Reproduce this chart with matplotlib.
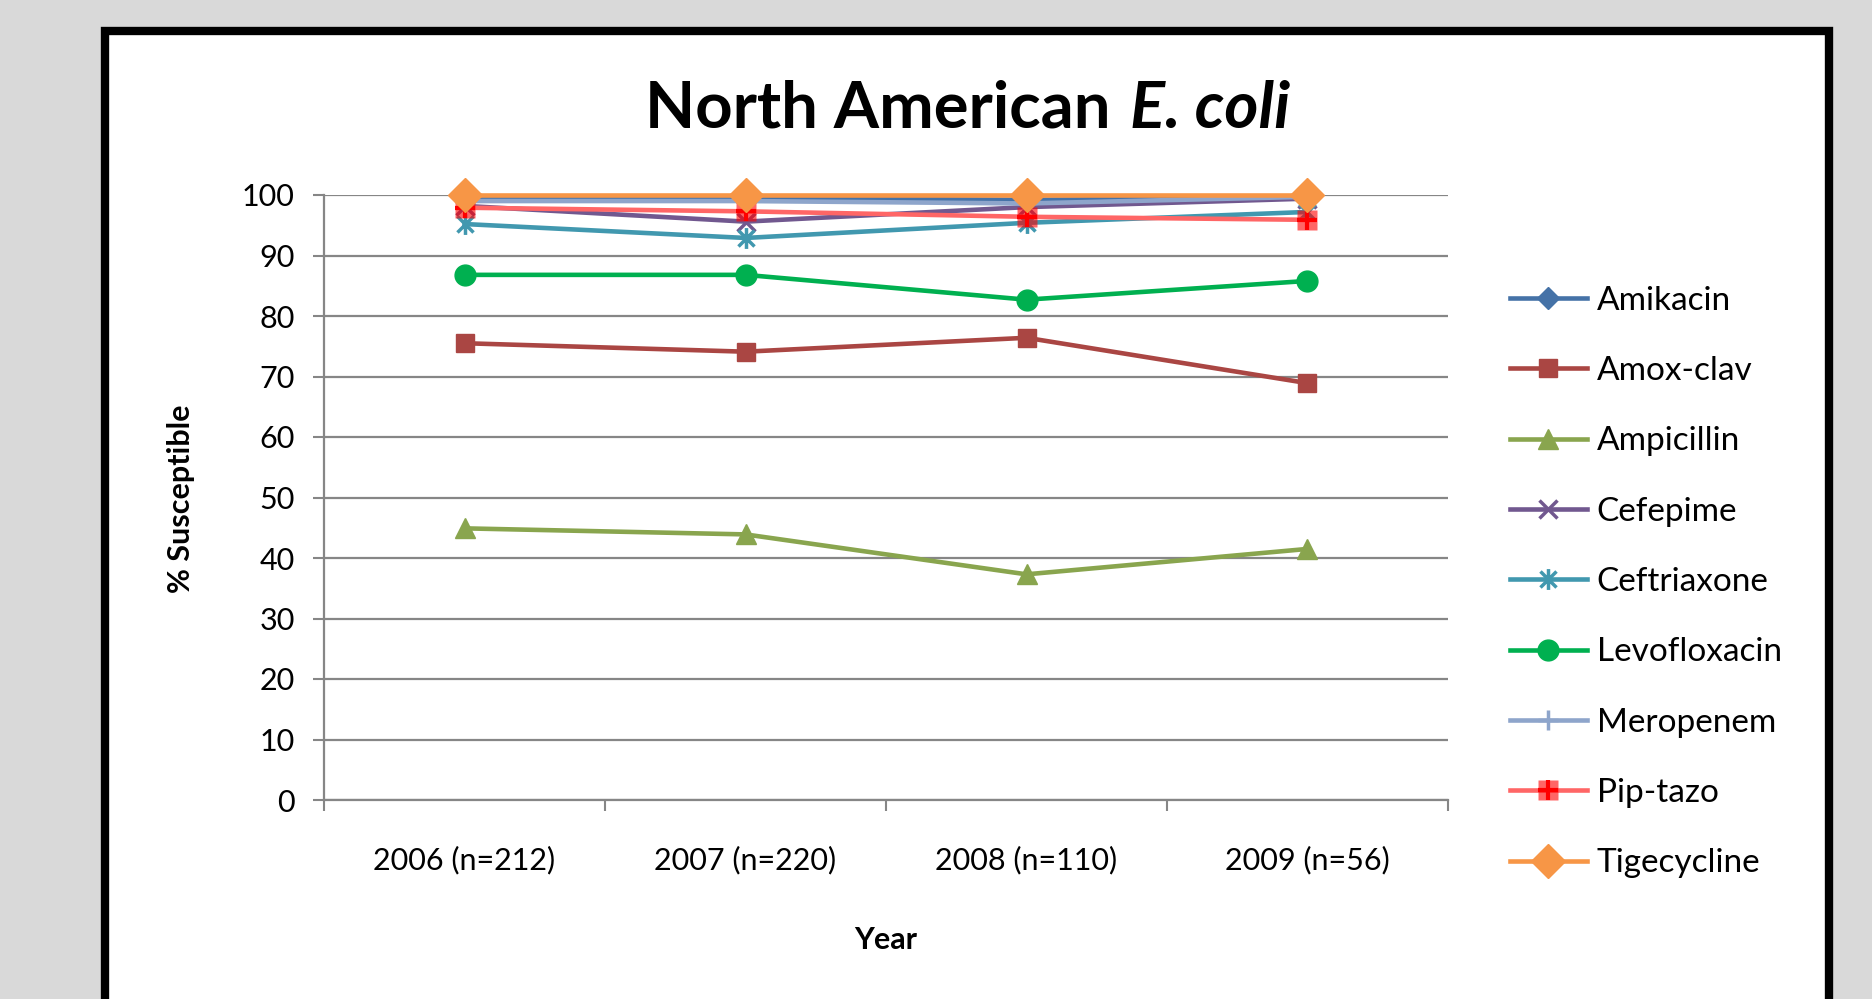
import matplotlib.pyplot as plt
from matplotlib.patches import Rectangle
from matplotlib.path import Path
from matplotlib.legend_handler import HandlerTuple

plt.rcParams['font.family'] = ['Lato', 'DejaVu Sans']

years = ["2006 (n=212)", "2007 (n=220)", "2008 (n=110)", "2009 (n=56)"]

amikacin = [99.4, 99.5, 99.2, 99.6]
amox_clav = [75.5, 74.1, 76.4, 68.9]
ampicillin = [44.9, 43.9, 37.3, 41.5]
cefepime = [98.2, 95.6, 98.0, 99.4]
ceftriaxone = [95.2, 92.9, 95.4, 97.2]
levofloxacin = [86.8, 86.8, 82.7, 85.8]
meropenem = [99.0, 99.0, 98.6, 99.7]
pip_tazo = [97.9, 97.3, 96.4, 95.9]
tigecycline = [100, 100, 100, 100]

# asterisk marker like the spreadsheet one (x plus vertical bar)
asterisk = Path([(-1, -1), (1, 1), (-1, 1), (1, -1), (0, -1.3), (0, 1.3)],
                [Path.MOVETO, Path.LINETO, Path.MOVETO, Path.LINETO, Path.MOVETO, Path.LINETO])

fig = plt.figure(figsize=(18.72, 9.99), dpi=100)
fig.patch.set_facecolor("#d9d9d9")
fig.patches.append(Rectangle((105 / 1872, -0.05), (1829 - 105) / 1872, 1.05 - 31 / 999,
                             transform=fig.transFigure, facecolor="white",
                             edgecolor="black", linewidth=6, zorder=-1))

ax = fig.add_axes([324 / 1872, 1 - 800 / 999, (1448 - 324) / 1872, (800 - 195) / 999])
ax.set_zorder(2)
x = range(len(years))
lw = 3.3
kw = dict(lw=lw, clip_on=False)

h_ami, = ax.plot(x, amikacin, color="#4572A7", marker="D", ms=11, **kw)
h_amox, = ax.plot(x, amox_clav, color="#AA4643", marker="s", ms=13, **kw)
h_amp, = ax.plot(x, ampicillin, color="#89A54E", marker="^", ms=14, **kw)
h_cef, = ax.plot(x, cefepime, color="#71588F", marker="x", ms=13, mew=2.5, **kw)
h_ceft, = ax.plot(x, ceftriaxone, color="#4198AF", marker=asterisk, ms=15, mew=2.5, **kw)
h_levo, = ax.plot(x, levofloxacin, color="#00B050", marker="o", ms=15, **kw)
h_mero, = ax.plot(x, meropenem, color="#8EA5CB", marker="+", ms=15, mew=2.5, **kw)
h_pip1, = ax.plot(x, pip_tazo, color="#FF6666", marker="s", ms=14,
                  mfc=(1, 0, 0, 0.6), mec=(1, 0, 0, 0.0), **kw)
h_pip2, = ax.plot(x, pip_tazo, ls="none", marker="+", ms=14, mew=3, color="red", clip_on=False)
h_tige, = ax.plot(x, tigecycline, color="#F79646", marker="D", ms=17, **kw)

ax.set_xlim(-0.5, 3.5)
ax.set_ylim(0, 100)
ax.set_yticks(range(0, 101, 10))
ax.set_xticks([-0.5, 0.5, 1.5, 2.5, 3.5])
ax.set_xticklabels([])
ax.set_xticks(list(x), minor=True)
ax.set_xticklabels(years, minor=True)
ax.tick_params(axis="x", which="minor", length=0, pad=33, labelsize=22)
ax.tick_params(axis="x", which="major", length=8, width=1.5, color="#868686")
ax.tick_params(axis="y", length=8, width=1.5, color="#868686", pad=13, labelsize=22)
ax.yaxis.grid(True, color="#868686", lw=1.6)
ax.set_axisbelow(True)
for s in ["top", "right"]:
    ax.spines[s].set_visible(False)
for s in ["left", "bottom"]:
    ax.spines[s].set_color("#868686")
    ax.spines[s].set_linewidth(1.6)

fig.text(1126 / 1872, 1 - 128 / 999, "North American ", ha="right", va="baseline",
         fontsize=47, fontweight="bold")
fig.text(1130 / 1872, 1 - 128 / 999, "E. coli", ha="left", va="baseline",
         fontsize=47, fontweight="bold", style="italic")
fig.text(181 / 1872, 1 - 499 / 999, "% Susceptible", rotation=90, ha="center", va="center",
         fontsize=22, fontweight="bold")
fig.text(886 / 1872, 1 - 940 / 999, "Year", ha="center", va="center",
         fontsize=22, fontweight="bold")

handles = [h_ami, h_amox, h_amp, h_cef, h_ceft, h_levo, h_mero, (h_pip1, h_pip2), h_tige]
labels = ["Amikacin", "Amox-clav", "Ampicillin", "Cefepime", "Ceftriaxone",
          "Levofloxacin", "Meropenem", "Pip-tazo", "Tigecycline"]
fig.legend(handles, labels, loc="center left", bbox_to_anchor=(1510 / 1872, 1 - 582 / 999),
           frameon=False, fontsize=24, handlelength=2.3, handletextpad=0.3,
           labelspacing=1.21, borderpad=0, borderaxespad=0,
           handler_map={tuple: HandlerTuple(ndivide=1, pad=0)})

fig.savefig("out.png", dpi=100, facecolor=fig.get_facecolor())
